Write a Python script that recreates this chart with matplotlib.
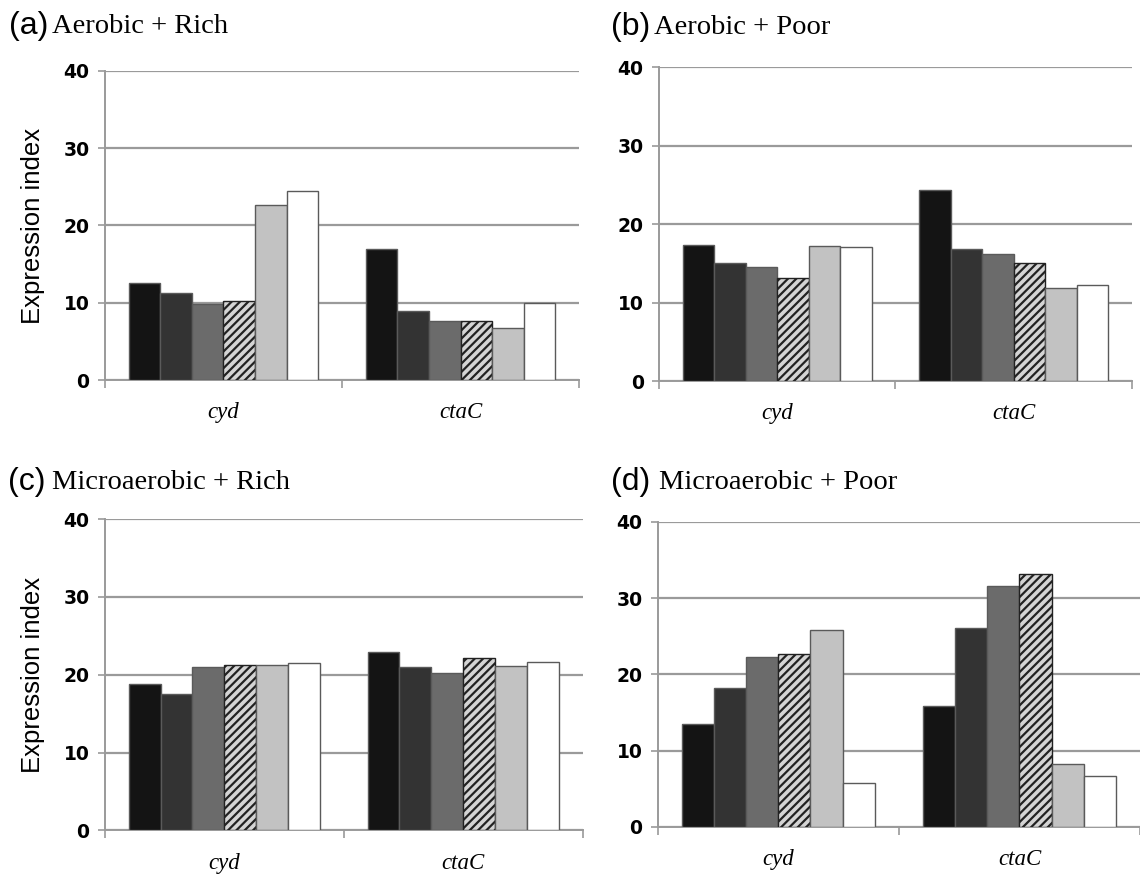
import numpy as np
import matplotlib
matplotlib.use('Agg')
import matplotlib.pyplot as plt


genes = ["cyd", "ctaC"]
panel_letters = ["(a)", "(b)", "(c)", "(d)"]
panel_titles = ["Aerobic + Rich", "Aerobic + Poor", "Microaerobic + Rich", "Microaerobic + Poor"]
y_ticks = [0, 10, 20, 30, 40]

# one row per gene, one column per bar (6 bars in each group)
aerobic_rich = [[12.6, 11.3, 9.9, 10.3, 22.6, 24.4],
                [17.0, 9.0, 7.7, 7.7, 6.7, 10.0]]
aerobic_poor = [[17.4, 15.0, 14.6, 13.1, 17.2, 17.1],
                [24.4, 16.8, 16.2, 15.0, 11.9, 12.3]]
micro_rich = [[18.8, 17.5, 21.0, 21.2, 21.3, 21.5],
              [22.9, 21.0, 20.2, 22.2, 21.1, 21.7]]
micro_poor = [[13.5, 18.2, 22.3, 22.7, 25.8, 5.7],
              [15.8, 26.1, 31.6, 33.1, 8.2, 6.6]]

BAR_COLORS = ["#141414", "#333333", "#6b6b6b", "#d4d4d4", "#c2c2c2", "#ffffff"]
BAR_HATCH = [None, None, None, "////", None, None]
GRID = "#9a9a9a"

# axes rectangles in figure fraction (left, bottom, width, height)
AX_POS = [(0.092, 0.565, 0.416, 0.354),
          (0.578, 0.564, 0.415, 0.359),
          (0.092, 0.050, 0.419, 0.356),
          (0.577, 0.054, 0.423, 0.349)]
# x of "(a)", x of the title text, y centre (figure fraction)
TITLE_POS = [(0.008, 0.046, 0.970), (0.536, 0.574, 0.969),
             (0.007, 0.046, 0.448), (0.536, 0.578, 0.448)]

plt.rcParams['hatch.linewidth'] = 1.6
TICK_FONT = ['Liberation Sans Narrow', 'DejaVu Sans']


def draw_panel(fig, idx, data):
    ax = fig.add_axes(AX_POS[idx])
    data = np.array(data)
    n = data.shape[1]
    width = 0.8 / n
    x = np.arange(len(genes))
    for b in range(n):
        offs = (b - (n - 1) / 2) * width
        ax.bar(x + offs, data[:, b], width, color=BAR_COLORS[b],
               edgecolor="#222222" if BAR_HATCH[b] else "#5a5a5a",
               hatch=BAR_HATCH[b], linewidth=1.0, zorder=3)

    ax.set_xlim(-0.5, len(genes) - 0.5)
    ax.set_ylim(0, 40)
    ax.set_yticks(y_ticks)
    ax.set_yticklabels([str(t) for t in y_ticks], family=TICK_FONT,
                       fontweight='bold', fontsize=13.5)
    ax.yaxis.grid(True, color=GRID, linewidth=1.6, zorder=0)
    ax.set_axisbelow(True)

    # category labels in the middle, tick marks on the boundaries
    ax.set_xticks([-0.5, 0.5, 1.5])
    ax.set_xticklabels([])
    ax.set_xticks(x, minor=True)
    ax.set_xticklabels(genes, minor=True, family='Liberation Serif',
                       style='italic', fontsize=16.5)
    ax.tick_params(axis='x', which='minor', length=0, pad=16)
    ax.tick_params(axis='x', which='major', length=6, color=GRID, width=1.2)
    ax.tick_params(axis='y', length=5, color=GRID, width=1.2, pad=6)

    for side in ["top", "right"]:
        ax.spines[side].set_visible(False)
    for side in ["left", "bottom"]:
        ax.spines[side].set_color(GRID)
        ax.spines[side].set_linewidth(1.4)

    if idx % 2 == 0:
        ax.set_ylabel("Expression index", family='Liberation Sans',
                      fontsize=18.5, labelpad=13)

    lx, tx, ty = TITLE_POS[idx]
    fig.text(lx, ty, panel_letters[idx], family='Liberation Sans',
             fontsize=23, va='center', ha='left')
    fig.text(tx, ty, panel_titles[idx], family='Liberation Serif',
             fontsize=20.5, va='center', ha='left')
    return ax


def main() -> None:
    fig = plt.figure(figsize=(11.4, 8.74), dpi=100)
    for i, d in enumerate([aerobic_rich, aerobic_poor, micro_rich, micro_poor]):
        draw_panel(fig, i, d)
    fig.savefig("out.png", dpi=100, facecolor="white")


if __name__ == "__main__":
    main()
